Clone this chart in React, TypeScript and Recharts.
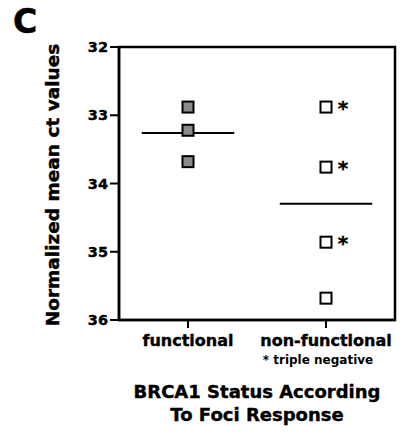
import React from "react";
import {
  ScatterChart,
  Scatter,
  XAxis,
  YAxis,
  ReferenceLine,
  ReferenceArea,
} from "recharts";

const categories = ["functional", "non-functional"];
const functionalValues = [32.88, 33.22, 33.68];
const nonFunctionalValues = [32.88, 33.76, 34.86, 35.68];
const tripleNegative = [true, true, true, false];
const yTicks = [32, 33, 34, 35, 36];

const FONT = "'DejaVu Sans', 'Liberation Sans', Arial, sans-serif";

const functionalData = functionalValues.map((v) => ({ x: 1, y: v }));
const nonFunctionalData = nonFunctionalValues.map((v, i) => ({ x: 2, y: v, tn: tripleNegative[i] }));

const mean = (arr: number[]) => arr.reduce((a, b) => a + b, 0) / arr.length;
const HALF = 0.335;

// a thin outline makes the bold text look a bit heavier, closer to the original
const heavy = { stroke: "#000", strokeWidth: 0.4 };

const SquareDot = ({ cx, cy, payload, fill }: any) => {
  if (cx == null || cy == null) return null;
  return (
    <g>
      <rect x={cx - 5.5} y={cy - 5.5} width={11} height={11} fill={fill} stroke="#000" strokeWidth={2} />
      {payload?.tn && (
        <text x={cx + 17} y={cy + 8} textAnchor="middle" fontFamily={FONT} fontWeight="bold" fontSize={20} fill="#000" {...heavy}>
          *
        </text>
      )}
    </g>
  );
};

const XTick = ({ x, y, payload }: any) => {
  const label = categories[payload.value - 1];
  return (
    <g>
      <text x={x} y={y + 16} textAnchor="middle" fontFamily={FONT} fontWeight="bold" fontSize={16} fill="#000" {...heavy}>
        {label}
      </text>
      {payload.value === 2 && (
        <text x={x - 8} y={y + 34} textAnchor="middle" fontFamily={FONT} fontWeight="bold" fontSize={12} fill="#000">
          * triple negative
        </text>
      )}
    </g>
  );
};

const XTitle = ({ viewBox }: any) => {
  const cx = viewBox.x + viewBox.width / 2;
  return (
    <text textAnchor="middle" fontFamily={FONT} fontWeight="bold" fontSize={18} fill="#000" {...heavy}>
      <tspan x={cx} y={398}>BRCA1 Status According</tspan>
      <tspan x={cx} y={421}>To Foci Response</tspan>
    </text>
  );
};

const YTitle = () => (
  <text
    x={52}
    y={185}
    transform="rotate(-90 52 185)"
    textAnchor="middle"
    dominantBaseline="central"
    fontFamily={FONT}
    fontWeight="bold"
    fontSize={18.5}
    fill="#000"
    {...heavy}
  >
    Normalized mean ct values
  </text>
);

export default function App() {
  return (
    <div style={{ position: "absolute", left: 0, top: 0, width: 404, height: 435, background: "#fff" }}>
      <div
        style={{
          position: "absolute",
          left: 13,
          top: -2,
          fontFamily: FONT,
          fontWeight: "bold",
          fontSize: 33,
          lineHeight: "48px",
          WebkitTextStroke: "0.6px #000",
        }}
      >
        C
      </div>
      <ScatterChart width={404} height={435} margin={{ top: 47, right: 9, bottom: 0, left: 0 }}>
        <XAxis
          type="number"
          dataKey="x"
          domain={[0.5, 2.5]}
          ticks={[1, 2]}
          allowDataOverflow
          height={115}
          axisLine={{ stroke: "#000", strokeWidth: 2.5 }}
          tickLine={{ stroke: "#000", strokeWidth: 2 }}
          tickSize={8}
          tick={<XTick />}
          label={{ content: <XTitle /> }}
        />
        <YAxis
          type="number"
          dataKey="y"
          domain={[32, 36]}
          ticks={yTicks}
          reversed
          allowDataOverflow
          width={119}
          axisLine={{ stroke: "#000", strokeWidth: 2.5 }}
          tickLine={{ stroke: "#000", strokeWidth: 2 }}
          tickSize={9}
          tickMargin={2}
          tick={{ fill: "#000", fontFamily: FONT, fontWeight: "bold", fontSize: 14.5, ...heavy }}
          label={{ content: <YTitle /> }}
        />
        <ReferenceArea x1={0.5} x2={2.5} y1={32} y2={36} fill="none" stroke="#000" strokeWidth={2.5} />
        <ReferenceLine
          segment={[
            { x: 1 - HALF, y: mean(functionalValues) },
            { x: 1 + HALF, y: mean(functionalValues) },
          ]}
          stroke="#000"
          strokeWidth={2}
        />
        <ReferenceLine
          segment={[
            { x: 2 - HALF, y: mean(nonFunctionalValues) },
            { x: 2 + HALF, y: mean(nonFunctionalValues) },
          ]}
          stroke="#000"
          strokeWidth={2}
        />
        <Scatter data={functionalData} fill="#8a8a8a" shape={<SquareDot />} isAnimationActive={false} />
        <Scatter data={nonFunctionalData} fill="#fff" shape={<SquareDot />} isAnimationActive={false} />
      </ScatterChart>
    </div>
  );
}
